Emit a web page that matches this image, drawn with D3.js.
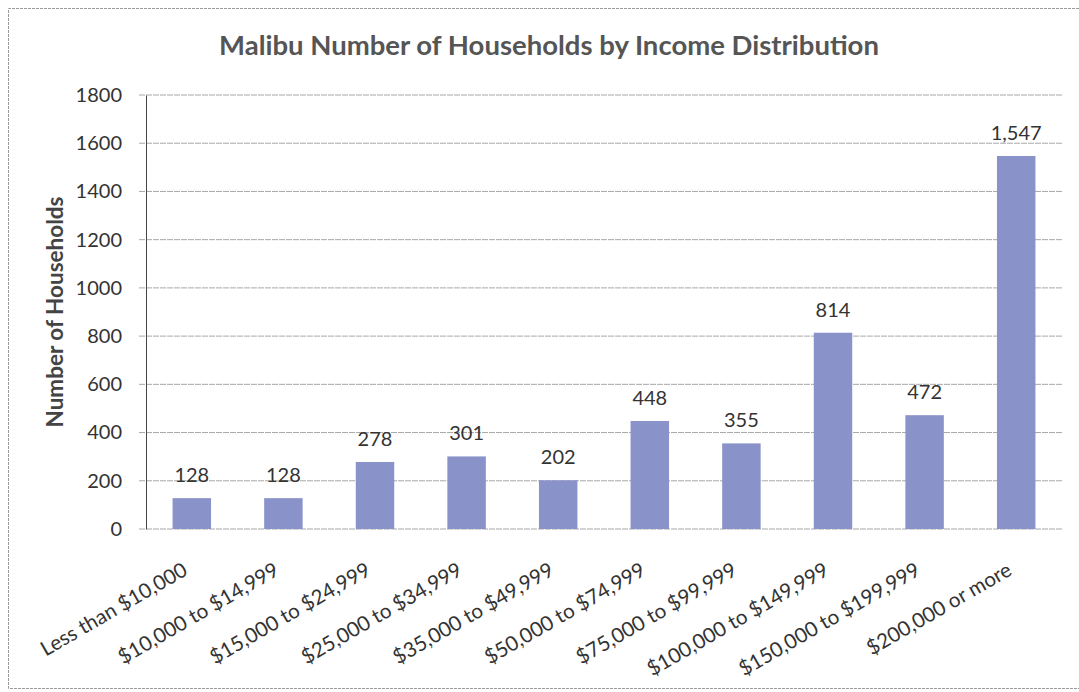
<!DOCTYPE html>
<html>
<head>
<meta charset="utf-8">
<script src="https://cdn.jsdelivr.net/npm/d3@7"></script>
<style>
  body { margin: 0; background: #fff; }
  text { font-family: Lato, "Open Sans", sans-serif; }
</style>
</head>
<body>
<div id="chart"></div>
<script>
// Data
const categories = [
    "Less than $10,000", "$10,000 to $14,999", "$15,000 to $24,999", "$25,000 to $34,999",
    "$35,000 to $49,999", "$50,000 to $74,999", "$75,000 to $99,999", "$100,000 to $149,999",
    "$150,000 to $199,999", "$200,000 or more"
];
const households = [128, 128, 278, 301, 202, 448, 355, 814, 472, 1547];
const yTicks = [0, 200, 400, 600, 800, 1000, 1200, 1400, 1600, 1800];

const width = 1079, height = 692;
const margin = { top: 95, right: 17, bottom: 163, left: 146 };
const innerWidth = width - margin.left - margin.right;
const innerHeight = height - margin.top - margin.bottom;

const svg = d3.select('#chart').append('svg')
    .attr('width', width)
    .attr('height', height);

// Page frame (scanned border: top, left, bottom edges)
svg.append('path')
    .attr('d', `M${width},8.5 H8.5 V688.5 H${width}`)
    .attr('fill', 'none')
    .attr('stroke', '#9a9a9a')
    .attr('stroke-width', 1)
    .attr('stroke-dasharray', '3,1');

// Title
svg.append('text')
    .attr('x', 549).attr('y', 55)
    .attr('text-anchor', 'middle')
    .attr('font-size', '27.5px')
    .attr('font-weight', 'bold')
    .attr('fill', '#555')
    .text('Malibu Number of Households by Income Distribution');

const g = svg.append('g')
    .attr('transform', `translate(${margin.left},${margin.top})`);

const x = d3.scaleBand()
    .domain(categories)
    .range([0, innerWidth])
    .paddingInner(0.58)
    .paddingOuter(0.29);

const y = d3.scaleLinear()
    .domain([0, 1800])
    .range([innerHeight, 0]);

// Gridlines
g.append('g')
    .selectAll('line')
    .data(yTicks)
    .join('line')
    .attr('x1', -7).attr('x2', innerWidth)
    .attr('y1', d => y(d)).attr('y2', d => y(d))
    .attr('stroke', '#a8a8a8')
    .attr('stroke-width', 1)
    .attr('stroke-dasharray', '6,1');

// Y axis
const yAxis = g.append('g')
    .call(d3.axisLeft(y).tickValues(yTicks).tickSize(0).tickPadding(24).tickFormat(d3.format('d')));
yAxis.select('.domain').attr('stroke', '#444');
yAxis.selectAll('text')
    .attr('font-size', '20px')
    .attr('fill', '#333');

svg.append('text')
    .attr('transform', `translate(63,${margin.top + innerHeight / 2}) rotate(-90)`)
    .attr('text-anchor', 'middle')
    .attr('font-size', '22.5px')
    .attr('font-weight', 'bold')
    .attr('fill', '#444')
    .text('Number of Households');

// Bars
g.selectAll('.bar')
    .data(households)
    .join('rect')
    .attr('class', 'bar')
    .attr('x', (d, i) => x(categories[i]))
    .attr('y', d => y(d))
    .attr('width', x.bandwidth())
    .attr('height', d => innerHeight - y(d))
    .attr('fill', '#8a93c9');

// Value labels
g.selectAll('.val')
    .data(households)
    .join('text')
    .attr('class', 'val')
    .attr('x', (d, i) => x(categories[i]) + x.bandwidth() / 2)
    .attr('y', d => y(d) - 16)
    .attr('text-anchor', 'middle')
    .attr('font-size', '20px')
    .attr('fill', '#333')
    .text(d => d3.format(',')(d));

// Category labels
g.selectAll('.cat')
    .data(categories)
    .join('text')
    .attr('class', 'cat')
    .attr('transform', d => `translate(${x(d) + x.bandwidth() / 2 - 3},${innerHeight + 45}) rotate(-30)`)
    .attr('text-anchor', 'end')
    .attr('font-size', '20.5px')
    .attr('fill', '#333')
    .text(d => d);
</script>
</body>
</html>
